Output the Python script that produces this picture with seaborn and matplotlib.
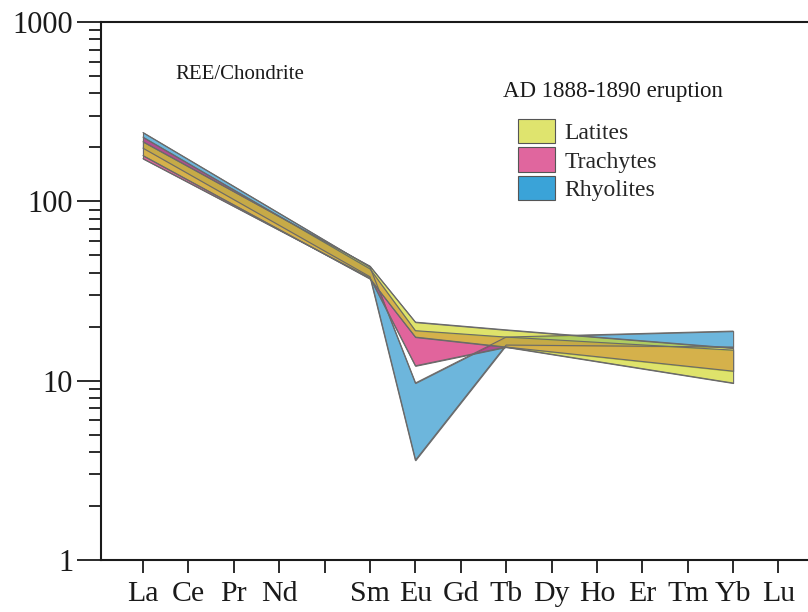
import numpy as np
import pandas as pd
import matplotlib
matplotlib.use("Agg")
import matplotlib.pyplot as plt
from matplotlib.patches import Patch
from matplotlib.ticker import FixedLocator, NullFormatter
import seaborn as sns

# ---- data ----
ree_labels = ["La", "Ce", "Pr", "Nd", "", "Sm", "Eu", "Gd", "Tb", "Dy", "Ho", "Er", "Tm", "Yb", "Lu"]
band_elements = ["La", "Sm", "Eu", "Tb", "Yb"]

latite_low = [180, 37.0, 17.5, 15.4, 9.7]
latite_high = [215, 43.5, 21.2, 19.2, 15.2]
trachyte_low = [173, 37.5, 12.1, 15.4, 11.3]
trachyte_high = [228, 42.0, 19.0, 17.5, 14.8]
rhyolite_low = [198, 38.0, 3.6, 15.8, 15.4]
rhyolite_high = [242, 43.0, 9.7, 17.5, 18.9]

groups = ["Rhyolites", "Trachytes", "Latites"]
fill_colors = {"Latites": (208, 215, 37), "Trachytes": (212, 27, 109), "Rhyolites": (40, 148, 204)}
legend_colors = {"Latites": (223, 228, 110), "Trachytes": (224, 102, 158), "Rhyolites": (58, 163, 216)}

# ---- build table ----
xpos = [ree_labels.index(e) for e in band_elements]
rows = []
for g, lo, hi in [("Latites", latite_low, latite_high),
                  ("Trachytes", trachyte_low, trachyte_high),
                  ("Rhyolites", rhyolite_low, rhyolite_high)]:
    for x, l, h in zip(xpos, lo, hi):
        rows.append({"group": g, "x": x, "low": l, "high": h})
df = pd.DataFrame(rows)

sns.set_theme(style="ticks")
plt.rcParams["font.family"] = ["Liberation Serif", "DejaVu Serif"]
plt.rcParams["mathtext.fontset"] = "stix"

fig = plt.figure(figsize=(8.08, 6.12), dpi=100)
ax = fig.add_axes([101 / 808, 52 / 612, 707 / 808, 538 / 612])

def rgb(c, a=1.0):
    return (c[0] / 255, c[1] / 255, c[2] / 255, a)

edge = "#6a6a6a"
for g in groups:
    d = df[df.group == g].sort_values("x")
    ax.fill_between(d.x, d.low, d.high, facecolor=rgb(fill_colors[g], 0.68),
                    edgecolor=edge, linewidth=0.8, zorder=2)
    sns.lineplot(data=d, x="x", y="low", ax=ax, color=edge, linewidth=0.8, zorder=3,
                 estimator=None, sort=True)
    sns.lineplot(data=d, x="x", y="high", ax=ax, color=edge, linewidth=0.8, zorder=3,
                 estimator=None, sort=True)

ax.set_yscale("log")
ax.set_ylim(1, 1000)
ax.set_xlim(-0.925, 14.65)
ax.set_xlabel("")
ax.set_ylabel("")

ax.set_xticks(range(len(ree_labels)))
ax.set_xticklabels(ree_labels, fontsize=21.5)
ax.yaxis.set_major_locator(FixedLocator([1, 10, 100, 1000]))
ax.set_yticklabels(["1", "10", "100", "1000"], fontsize=22)
minors = [m * 10 ** k for k in range(0, 3) for m in range(2, 10)]
ax.yaxis.set_minor_locator(FixedLocator(minors))
ax.yaxis.set_minor_formatter(NullFormatter())

ax.tick_params(axis="y", which="major", direction="out", length=17, width=1.3, pad=3, colors="#1a1a1a")
ax.tick_params(axis="y", which="minor", direction="out", length=9, width=1.3, colors="#1a1a1a")
ax.tick_params(axis="x", which="major", direction="out", length=9, width=1.3, pad=6, colors="#1a1a1a")
ax.tick_params(axis="x", which="minor", length=0)

for s in ["left", "bottom", "top"]:
    ax.spines[s].set_linewidth(1.5)
    ax.spines[s].set_color("#1a1a1a")
ax.spines["right"].set_visible(False)

ax.text(0.105, 0.903, "REE/Chondrite", transform=ax.transAxes, fontsize=15,
        ha="left", va="center", color="#1a1a1a")
ax.text(0.569, 0.870, "AD 1888-1890 eruption", transform=ax.transAxes, fontsize=16.5,
        ha="left", va="center", color="#1a1a1a")

handles = [Patch(facecolor=rgb(legend_colors[g]), edgecolor="#555555", linewidth=0.8, label=g)
           for g in ["Latites", "Trachytes", "Rhyolites"]]
ax.legend(handles=handles, loc="upper left", bbox_to_anchor=(0.590, 0.820),
          frameon=False, fontsize=17, handlelength=1.55, handleheight=1.2,
          labelspacing=0.15, handletextpad=0.4, borderpad=0, borderaxespad=0)

fig.savefig("out.png", dpi=100)
